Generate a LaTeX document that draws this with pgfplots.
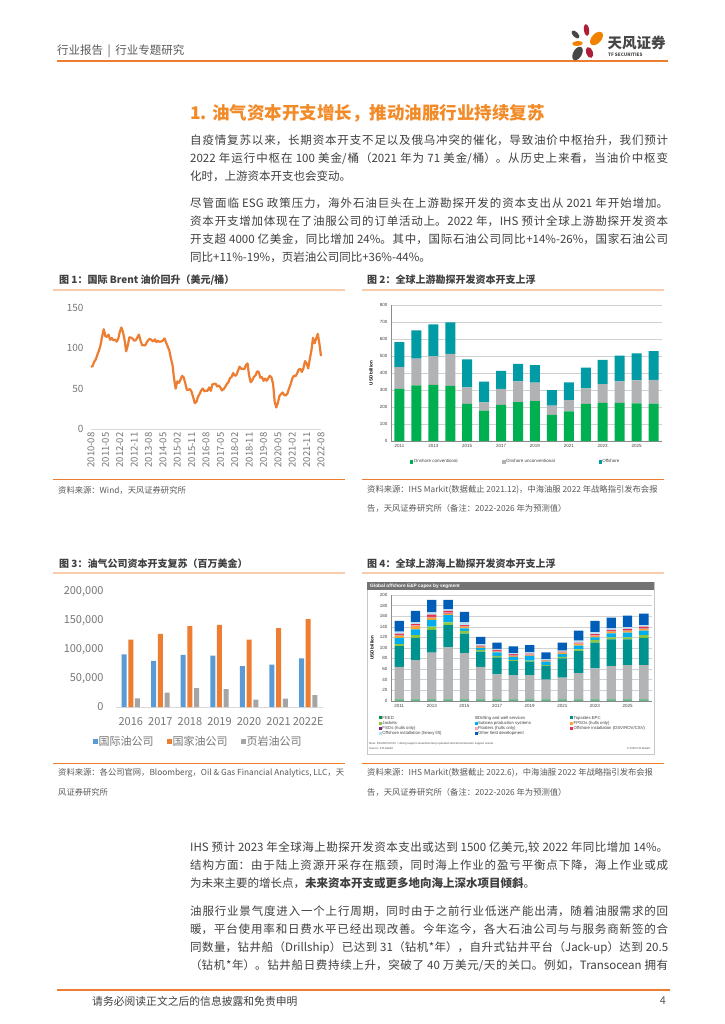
\documentclass[border=0pt]{standalone}
\usepackage{fontspec}
\setmainfont{Noto Sans CJK SC}
\newfontfamily\arialf{Liberation Sans}
\usepackage{pgfplots}
\pgfplotsset{compat=1.18}
\XeTeXlinebreaklocale "zh"
\XeTeXlinebreakskip=0pt plus 2pt

\definecolor{bodytxt}{RGB}{64,64,64}
\definecolor{srctxt}{RGB}{89,89,89}
\definecolor{tickgray}{RGB}{118,118,118}
\definecolor{tforange}{RGB}{237,125,49}
\definecolor{lightorange}{RGB}{248,203,173}
\definecolor{titleorange}{RGB}{242,138,40}
\definecolor{logogray}{RGB}{70,70,70}
\definecolor{logored}{RGB}{175,30,55}
\definecolor{logoorange}{RGB}{240,130,0}
% chart 2
\definecolor{onconv}{RGB}{0,176,80}
\definecolor{onunconv}{RGB}{176,178,180}
\definecolor{offsh}{RGB}{0,155,165}
% chart 3
\definecolor{xlblue}{RGB}{91,155,213}
\definecolor{xlorange}{RGB}{237,125,49}
\definecolor{xlgray}{RGB}{165,165,165}
% chart 4
\definecolor{cfeed}{RGB}{0,150,60}
\definecolor{cdrill}{RGB}{178,180,182}
\definecolor{ctop}{RGB}{0,146,143}
\definecolor{cjack}{RGB}{141,198,63}
\definecolor{csub}{RGB}{0,174,239}
\definecolor{cfpso}{RGB}{247,166,50}
\definecolor{cfso}{RGB}{123,40,120}
\definecolor{cflo}{RGB}{246,170,180}
\definecolor{cdsv}{RGB}{230,50,80}
\definecolor{cheavy}{RGB}{185,225,245}
\definecolor{cother}{RGB}{0,94,184}

\begin{document}
\begin{tikzpicture}[x=1pt,y=1pt]
\useasboundingbox (0,0) rectangle (724,-1024);
\fill[white] (0,0) rectangle (724,-1024);

% ---------- header ----------
\node[anchor=west, inner sep=0pt, text=srctxt, font=\fontsize{11.5}{13}\selectfont] at (57,-51) {行业报告 \,|\, 行业专题研究};
\draw[tforange, line width=2pt] (57,-61) -- (668,-61);
% logo petals
\fill[logored, rotate around={8:(586.5,-30)}] (586.5,-30) ellipse (2.6pt and 6pt);
\fill[logogray, rotate around={45:(575.5,-34.5)}] (575.5,-34.5) ellipse (2.6pt and 5pt);
\fill[logoorange, rotate around={-42:(596.5,-38.5)}] (596.5,-38.5) ellipse (4.8pt and 8pt);
\fill[logoorange, rotate around={5:(577.5,-43.5)}] (577.5,-43.5) ellipse (5.3pt and 2.5pt);
\fill[logored, rotate around={20:(589.5,-52.5)}] (589.5,-52.5) ellipse (3.4pt and 5.6pt);
\fill[logogray, rotate around={-30:(577.5,-53.5)}] (577.5,-53.5) ellipse (4.3pt and 7.4pt);
\node[anchor=west, inner sep=0pt, text=logogray, font=\bfseries\fontsize{14.5}{15}\selectfont] at (607.5,-43) {天风证券};
\node[anchor=west, inner sep=0pt, text=logogray, font=\bfseries\fontsize{4.6}{5}\selectfont] at (608,-54.3) {TF SECURITIES};

% ---------- title and text ----------
\node[anchor=west, inner sep=0pt, text=titleorange, font=\bfseries\fontsize{17.5}{20}\selectfont] at (190,-113) {1. 油气资本开支增长，推动油服行业持续复苏};

\node[anchor=north west, inner sep=0pt, text width=478pt, align=justify, text=bodytxt, font=\fontsize{11.5}{18}\selectfont] at (190,-135) {自疫情复苏以来，长期资本开支不足以及俄乌冲突的催化，导致油价中枢抬升，我们预计\linebreak 2022 年运行中枢在 100 美金/桶（2021 年为 71 美金/桶）。从历史上来看，当油价中枢变\linebreak 化时，上游资本开支也会变动。};

\node[anchor=north west, inner sep=0pt, text width=478pt, align=justify, text=bodytxt, font=\fontsize{11.5}{18}\selectfont] at (190,-198) {尽管面临 ESG 政策压力，海外石油巨头在上游勘探开发的资本支出从 2021 年开始增加。\linebreak 资本开支增加体现在了油服公司的订单活动上。2022 年，IHS 预计全球上游勘探开发资本\linebreak 开支超 4000 亿美金，同比增加 24\%。其中，国际石油公司同比+14\%-26\%，国家石油公司\linebreak 同比+11\%-19\%，页岩油公司同比+36\%-44\%。};

% ---------- captions ----------
\node[anchor=west, inner sep=0pt, text=bodytxt, font=\bfseries\fontsize{10}{11}\selectfont] at (59,-280) {图 1：国际 Brent 油价回升（美元/桶）};
\draw[lightorange, line width=1.3pt] (53,-290) -- (345,-290);
\node[anchor=west, inner sep=0pt, text=bodytxt, font=\bfseries\fontsize{10}{11}\selectfont] at (367,-280) {图 2：全球上游勘探开发资本开支上浮};
\draw[lightorange, line width=1.3pt] (362,-290) -- (664,-290);
\node[anchor=west, inner sep=0pt, text=bodytxt, font=\bfseries\fontsize{10}{11}\selectfont] at (59,-564) {图 3：油气公司资本开支复苏（百万美金）};
\draw[lightorange, line width=1.3pt] (53,-573) -- (345,-573);
\node[anchor=west, inner sep=0pt, text=bodytxt, font=\bfseries\fontsize{10}{11}\selectfont] at (367,-564) {图 4：全球上游海上勘探开发资本开支上浮};
\draw[lightorange, line width=1.3pt] (362,-573) -- (664,-573);

% ---------- sources ----------
\draw[tforange, line width=0.8pt] (53,-479) -- (345,-479);
\draw[tforange, line width=0.8pt] (362,-479) -- (664,-479);
\draw[tforange, line width=0.8pt] (53,-763) -- (345,-763);
\draw[tforange, line width=0.8pt] (362,-763) -- (664,-763);
\begin{scope}[every node/.style={anchor=west, inner sep=0pt, text=srctxt, font=\fontsize{8.3}{9}\selectfont}]
\node at (58,-490) {资料来源：Wind，天风证券研究所};
\node at (367,-490) {资料来源：IHS Markit(数据截止 2021.12)，中海油服 2022 年战略指引发布会报};
\node at (367,-508) {告，天风证券研究所（备注：2022-2026 年为预测值）};
\node at (58,-773) {资料来源：各公司官网，Bloomberg，Oil \& Gas Financial Analytics, LLC，天};
\node at (58,-792) {风证券研究所};
\node at (367,-773) {资料来源：IHS Markit(数据截止 2022.6)，中海油服 2022 年战略指引发布会报};
\node at (367,-792) {告，天风证券研究所（备注：2022-2026 年为预测值）};
\end{scope}

% ---------- chart 1: Brent ----------
\begin{axis}[
  at={(91pt,-429pt)}, anchor=south west,
  scale only axis, width=230pt, height=121.5pt,
  xmin=0, xmax=144, ymin=0, ymax=150,
  axis x line*=bottom, axis y line*=left,
  axis line style={-},
  x axis line style={draw=black!15, line width=1pt},
  y axis line style={draw=none},
  tick style={draw=none},
  ytick={0,50,100,150},
  xtick={0,9,...,144},
  xticklabels={2010-08,2011-05,2012-02,2012-11,2013-08,2014-05,2015-02,2015-11,2016-08,2017-05,2018-02,2018-11,2019-08,2020-05,2021-02,2021-11,2022-08},
  xticklabel style={rotate=90, anchor=east, font=\fontsize{9.5}{10}\selectfont, text=tickgray},
  yticklabel style={font=\fontsize{10}{11}\selectfont, text=tickgray, xshift=-4pt},
  /pgf/number format/assume math mode=true,
  clip=false,
]
\addplot[color=tforange, line width=2.2pt, line join=round, mark=none] coordinates {
(0,76.7) (1,77.8) (2,83.0) (3,86.0) (4,91.8) (5,96.9) (6,104.0) (7,114.4) (8,123.2) (9,114.5)
(10,113.8) (11,116.5) (12,110.1) (13,112.3) (14,109.5) (15,110.5) (16,107.9) (17,111.0) (18,119.7) (19,125.3)
(20,119.8) (21,110.3) (22,95.9) (23,102.8) (24,113.2) (25,112.9) (26,111.7) (27,109.1) (28,109.5) (29,112.9)
(30,116.5) (31,109.2) (32,103.3) (33,103.3) (34,103.3) (35,107.4) (36,110.3) (37,111.2) (38,109.5) (39,108.1)
(40,110.7) (41,107.4) (42,108.8) (43,107.7) (44,108.1) (45,109.2) (46,111.9) (47,106.9) (48,101.9) (49,97.3)
(50,87.3) (51,79.4) (52,62.5) (53,49.8) (54,58.8) (55,57.0) (56,60.9) (57,65.6) (58,63.8) (59,56.8)
(60,48.2) (61,48.5) (62,49.3) (63,45.9) (64,38.9) (65,31.9) (66,33.5) (67,39.8) (68,43.3) (69,47.7)
(70,49.9) (71,46.6) (72,47.2) (73,47.2) (74,51.4) (75,47.1) (76,55.1) (77,55.5) (78,56.0) (79,52.5)
(80,53.8) (81,51.4) (82,47.6) (83,49.1) (84,51.9) (85,55.5) (86,57.6) (87,62.9) (88,64.2) (89,69.1)
(90,65.7) (91,66.7) (92,71.6) (93,77.0) (94,74.4) (95,74.3) (96,73.9) (97,78.9) (98,81.0) (99,65.9)
(100,57.7) (101,60.2) (102,64.4) (103,66.1) (104,71.2) (105,70.5) (106,63.3) (107,64.2) (108,59.5) (109,62.3)
(110,59.6) (111,62.7) (112,65.8) (113,63.7) (114,55.7) (115,33.7) (116,26.6) (117,32.4) (118,40.8) (119,43.2)
(120,45.0) (121,41.9) (122,41.5) (123,43.9) (124,50.2) (125,55.3) (126,62.3) (127,65.7) (128,65.3) (129,68.3)
(130,73.4) (131,74.3) (132,70.5) (133,74.9) (134,83.8) (135,80.9) (136,74.8) (137,86.5) (138,97.1) (139,112.5)
(140,105.8) (141,111.9) (142,117.5) (143,105.1) (144,90.0)
};
\end{axis}

% ---------- chart 2: upstream capex ----------
\begin{axis}[
  at={(391pt,-441pt)}, anchor=south west,
  scale only axis, width=271pt, height=136pt,
  xmin=-0.5, xmax=15.5, ymin=0, ymax=800,
  ybar stacked, bar width=10pt,
  axis x line*=bottom, axis y line*=left,
  axis line style={-, draw=black!45, line width=0.4pt},
  ymajorgrids, grid style={draw=black!18, line width=0.4pt},
  tick style={draw=none},
  ytick={0,100,...,800},
  xtick={0,2,...,14},
  xticklabels={2011,2013,2015,2017,2019,2021,2023,2025},
  ticklabel style={font=\arialf\fontsize{4.5}{5}\selectfont, text=black!75},
  /pgf/number format/assume math mode=true,
  ylabel={USD billion},
  ylabel style={at={(axis description cs:-0.074,0.5)}, anchor=center, font=\arialf\bfseries\fontsize{4.5}{5}\selectfont},
  legend columns=3,
  legend cell align=left,
  legend image code/.code={\fill[#1] (0pt,-1.6pt) rectangle (3.2pt,1.6pt);},
  legend style={at={(0.07,-0.154)}, anchor=west, draw=none, fill=none,
    font=\arialf\fontsize{4.5}{5}\selectfont, text=black!75, inner sep=0pt, nodes={inner sep=0.5pt}},
]
\addplot[fill=onconv, draw=none] coordinates {
(0,306) (1,327) (2,330) (3,325) (4,218) (5,178) (6,212) (7,229) (8,235) (9,153) (10,175) (11,218) (12,224) (13,224) (14,222) (15,220)};
\addlegendentry{\makebox[88pt][l]{Onshore conventional}}
\addplot[fill=onunconv, draw=none] coordinates {
(0,129) (1,157) (2,168) (3,187) (4,98) (5,49) (6,94) (7,122) (8,108) (9,55) (10,66) (11,92) (12,111) (13,127) (14,135) (15,139)};
\addlegendentry{\makebox[92pt][l]{Onshore unconventional}}
\addplot[fill=offsh, draw=none] coordinates {
(0,147) (1,167) (2,188) (3,186) (4,164) (5,122) (6,106) (7,102) (8,104) (9,92) (10,104) (11,121) (12,142) (13,151) (14,159) (15,169)};
\addlegendentry{\makebox[40pt][l]{Offshore}}
\end{axis}

% ---------- chart 3: oil company capex ----------
\begin{axis}[
  at={(116pt,-707pt)}, anchor=south west,
  scale only axis, width=207pt, height=115pt,
  xmin=-0.5, xmax=6.5, ymin=0, ymax=200000,
  ybar=1.7pt, bar width=5pt,
  axis x line*=bottom, axis y line*=left,
  axis line style={-},
  x axis line style={draw=black!15, line width=0.8pt},
  y axis line style={draw=none},
  tick style={draw=none},
  ytick={0,50000,100000,150000,200000},
  scaled y ticks=false,
  /pgf/number format/fixed,
  /pgf/number format/1000 sep={,},
  yticklabel style={font=\fontsize{11}{12}\selectfont, text=tickgray, xshift=-9pt},
  xtick={0,...,6},
  xticklabels={2016,2017,2018,2019,2020,2021,2022E},
  xticklabel style={font=\fontsize{11}{12}\selectfont, text=tickgray, yshift=-3pt},
  /pgf/number format/assume math mode=true,
  legend columns=3,
  legend cell align=left,
  legend image code/.code={\fill[#1] (0pt,-2.5pt) rectangle (5pt,2.5pt);},
  legend style={at={(-0.111,-0.304)}, anchor=west, draw=none, fill=none,
    font=\fontsize{11}{12}\selectfont, text=tickgray, inner sep=0pt, nodes={inner sep=0.5pt}},
]
\addplot[fill=xlblue, draw=none] coordinates {(0,91600) (1,80100) (2,90500) (3,89300) (4,70900) (5,73800) (6,84700)};
\addlegendentry{\makebox[68pt][l]{国际油公司}}
\addplot[fill=xlorange, draw=none] coordinates {(0,117000) (1,127400) (2,140600) (3,142900) (4,117000) (5,137200) (6,152700)};
\addlegendentry{\makebox[68pt][l]{国家油公司}}
\addplot[fill=xlgray, draw=none] coordinates {(0,15000) (1,24800) (2,32900) (3,31100) (4,12700) (5,14400) (6,20700)};
\addlegendentry{\makebox[60pt][l]{页岩油公司}}
\end{axis}

% ---------- chart 4: offshore capex by segment ----------
\draw[black!22, fill=white, line width=0.6pt] (367,-582) rectangle (654,-754);
\fill[black!55] (367,-582) rectangle (654,-589.5);
\node[anchor=west, inner sep=0pt, text=white, font=\arialf\bfseries\fontsize{4.8}{5}\selectfont] at (370,-585.8) {Global offshore E\&P capex by segment};
\node[anchor=west, inner sep=0pt, text=black!70, font=\arialf\fontsize{2.8}{3}\selectfont] at (369,-744) {Note: DSV/ROV/CSV = diving support vessel/remotely operated vehicle/construction support vessel.};
\node[anchor=west, inner sep=0pt, text=black!70, font=\arialf\fontsize{2.8}{3}\selectfont] at (369,-748) {Source: IHS Markit};
\node[anchor=east, inner sep=0pt, text=black!70, font=\arialf\fontsize{2.8}{3}\selectfont] at (650,-748) {\textcopyright\ 2022 IHS Markit};

\begin{axis}[
  at={(391pt,-700.7pt)}, anchor=south west,
  scale only axis, width=261pt, height=105.7pt,
  xmin=-0.5, xmax=15.5, ymin=0, ymax=200,
  ybar stacked, bar width=9.3pt,
  axis x line*=bottom, axis y line*=left,
  axis line style={-, draw=black!45, line width=0.4pt},
  ymajorgrids, grid style={draw=black!18, line width=0.4pt},
  tick style={draw=none},
  ytick={0,20,...,200},
  xtick={0,2,...,14},
  xticklabels={2011,2013,2015,2017,2019,2021,2023,2025},
  ticklabel style={font=\arialf\fontsize{4.5}{5}\selectfont, text=black!75},
  /pgf/number format/assume math mode=true,
  ylabel={USD billion},
  ylabel style={at={(axis description cs:-0.073,0.5)}, anchor=center, font=\arialf\bfseries\fontsize{4.5}{5}\selectfont},
  legend columns=3,
  legend cell align=left,
  legend image code/.code={\fill[#1] (0pt,-1.5pt) rectangle (3pt,1.5pt);},
  legend style={at={(-0.046,-0.138)}, anchor=north west, draw=none, fill=none,
    font=\arialf\fontsize{4.3}{5}\selectfont, text=black!75, inner sep=0pt,
    nodes={inner sep=0.3pt, text height=3.3pt, text depth=1pt}, row sep=0.4pt},
]
\addplot[fill=cfeed, draw=none] coordinates {(0,2) (1,2) (2,2) (3,2) (4,2) (5,2) (6,2) (7,2) (8,2) (9,2) (10,2) (11,2) (12,2) (13,2) (14,2) (15,2)};
\addlegendentry{\makebox[92pt][l]{FEED}}
\addplot[fill=cdrill, draw=none] coordinates {(0,62) (1,75) (2,89) (3,99) (4,88) (5,62) (6,48) (7,46.6) (8,46.6) (9,38) (10,41.5) (11,50) (12,59) (13,63.6) (14,65.5) (15,65.5)};
\addlegendentry{\makebox[92pt][l]{Drilling and well services}}
\addplot[fill=ctop, draw=none] coordinates {(0,39.5) (1,42) (2,43) (3,42) (4,37) (5,29) (6,32) (7,26.4) (8,25.4) (9,26) (10,36.5) (11,42) (12,49) (13,50.4) (14,48.5) (15,51.5)};
\addlegendentry{\makebox[70pt][l]{Topsides EPC}}
\addplot[fill=cjack, draw=none] coordinates {(0,3.5) (1,5) (2,6) (3,5) (4,5) (5,3) (6,3) (7,2) (8,2) (9,1.5) (10,3) (11,3) (12,5) (13,4) (14,4) (15,5)};
\addlegendentry{\makebox[92pt][l]{Jackets}}
\addplot[fill=csub, draw=none] coordinates {(0,12) (1,11) (2,13) (3,14) (4,5) (5,4) (6,6.5) (7,6) (8,9) (9,6.5) (10,5) (11,7) (12,5) (13,7.5) (14,8.7) (15,8.5)};
\addlegendentry{\makebox[92pt][l]{Subsea production systems}}
\addplot[fill=cfpso, draw=none] coordinates {(0,4) (1,6) (2,4) (3,3) (4,3) (5,2) (6,1.5) (7,2) (8,1) (9,2) (10,3) (11,3) (12,2) (13,3.1) (14,3.3) (15,3.2)};
\addlegendentry{\makebox[70pt][l]{FPSOs (hulls only)}}
\addplot[fill=cfso, draw=none] coordinates {(0,0.5) (1,0.5) (2,0.5) (3,0.5) (4,0.5) (5,0.3) (6,0.5) (7,0.5) (8,0.5) (9,0.3) (10,0.5) (11,0.5) (12,0.5) (13,0.5) (14,0.5) (15,0.5)};
\addlegendentry{\makebox[92pt][l]{FSOs (hulls only)}}
\addplot[fill=cflo, draw=none] coordinates {(0,1) (1,1) (2,1) (3,1) (4,1) (5,0.7) (6,1) (7,1) (8,1) (9,0.4) (10,1) (11,1) (12,1) (13,1) (14,1) (15,1)};
\addlegendentry{\makebox[92pt][l]{Floaters (hulls only)}}
\addplot[fill=cdsv, draw=none] coordinates {(0,2.5) (1,2.5) (2,4.5) (3,3.5) (4,1.5) (5,1) (6,1.5) (7,1.5) (8,1.5) (9,0.3) (10,0.5) (11,1.5) (12,2.5) (13,1.7) (14,2.2) (15,2.8)};
\addlegendentry{\makebox[70pt][l]{Offshore installation (DSV/ROV/CSV)}}
\addplot[fill=cheavy, draw=none] coordinates {(0,3.6) (1,3) (2,4) (3,3) (4,5) (5,3) (6,2) (7,2) (8,2.5) (9,1) (10,2) (11,3.6) (12,4) (13,3.2) (14,3.3) (15,3)};
\addlegendentry{\makebox[92pt][l]{Offshore installation (heavy lift)}}
\addplot[fill=cother, draw=none] coordinates {(0,20.4) (1,22) (2,23.6) (3,17.6) (4,20) (5,14) (6,12) (7,13) (8,13.5) (9,13.5) (10,15) (11,18.9) (12,21) (13,20) (14,22) (15,22)};
\addlegendentry{\makebox[92pt][l]{Other field development}}
\end{axis}

% ---------- lower text ----------
\node[anchor=north west, inner sep=0pt, text width=478pt, align=justify, text=bodytxt, font=\fontsize{11.5}{18}\selectfont] at (190,-842) {IHS 预计 2023 年全球海上勘探开发资本支出或达到 1500 亿美元,较 2022 年同比增加 14\%。\linebreak 结构方面：由于陆上资源开采存在瓶颈，同时海上作业的盈亏平衡点下降，海上作业或成\linebreak 为未来主要的增长点，\textbf{未来资本开支或更多地向海上深水项目倾斜}。};

\node[anchor=north west, inner sep=0pt, text width=478pt, align=justify, text=bodytxt, font=\fontsize{11.5}{18}\selectfont] at (190,-906) {油服行业景气度进入一个上行周期，同时由于之前行业低迷产能出清，随着油服需求的回\linebreak 暖，平台使用率和日费水平已经出现改善。今年迄今，各大石油公司与与服务商新签的合\linebreak 同数量，钻井船（Drillship）已达到 31（钻机*年），自升式钻井平台（Jack-up）达到 20.5\linebreak （钻机*年）。钻井船日费持续上升，突破了 40 万美元/天的关口。例如，Transocean 拥有\linebreak};

% ---------- footer ----------
\draw[tforange, line width=2pt] (57,-990) -- (670,-990);
\node[anchor=west, inner sep=0pt, text=bodytxt, font=\fontsize{10.8}{12}\selectfont] at (92,-1001) {请务必阅读正文之后的信息披露和免责申明};
\node[anchor=east, inner sep=0pt, text=srctxt, font=\fontsize{10.8}{12}\selectfont] at (666,-1001) {4};
\end{tikzpicture}
\end{document}
